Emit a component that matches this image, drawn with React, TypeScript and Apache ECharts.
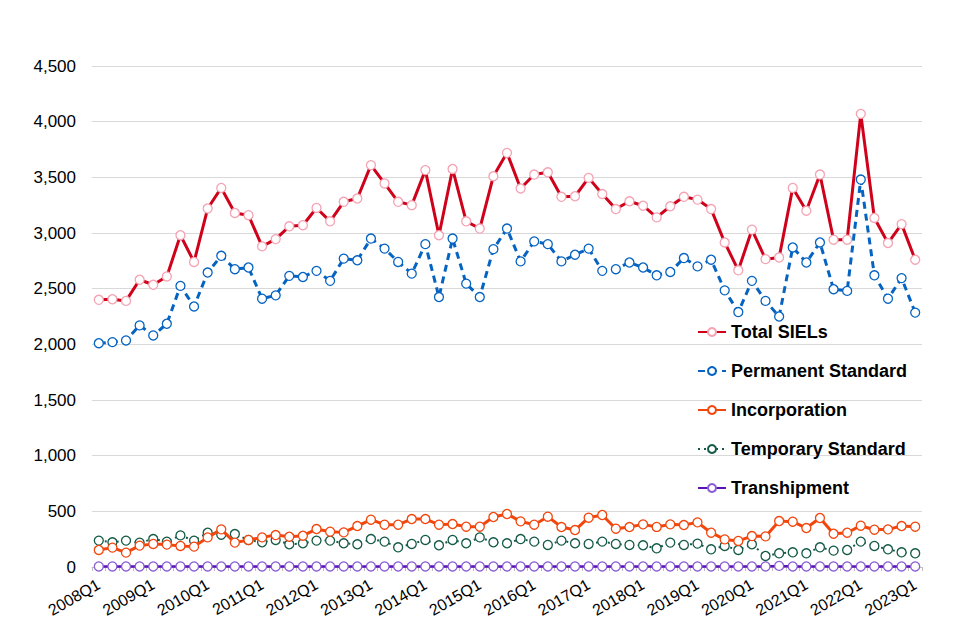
import React, { useEffect, useRef } from "react";
import * as echarts from "echarts";

const quarters: string[] = [];
for (let y = 2008; y <= 2023; y++) {
  for (let q = 1; q <= 4; q++) {
    if (y === 2023 && q > 1) break;
    quarters.push(`${y}Q${q}`);
  }
}

const totalSIELs = [
  2400, 2405, 2390, 2580, 2535, 2610, 2980, 2740, 3220, 3405, 3180, 3160, 2880, 2945, 3060, 3070,
  3225, 3105, 3280, 3310, 3610, 3445, 3280, 3250, 3565, 2980, 3575, 3105, 3040, 3510, 3720, 3400,
  3525, 3545, 3325, 3330, 3495, 3350, 3215, 3285, 3245, 3140, 3240, 3325, 3300, 3215, 2915, 2665,
  3030, 2765, 2780, 3405, 3200, 3525, 2940, 2940, 4070, 3135, 2910, 3080, 2760,
];

const permanentStandard = [
  2010, 2020, 2035, 2170, 2080, 2185, 2525, 2340, 2645, 2795, 2675, 2690, 2410, 2440, 2615, 2605,
  2660, 2570, 2770, 2755, 2950, 2860, 2740, 2635, 2900, 2425, 2950, 2545, 2425, 2855, 3040, 2745,
  2925, 2900, 2745, 2805, 2860, 2660, 2675, 2735, 2690, 2620, 2650, 2775, 2700, 2760, 2485, 2290,
  2570, 2390, 2250, 2870, 2735, 2915, 2495, 2480, 3480, 2620, 2410, 2595, 2285,
];

const incorporation = [
  153, 174, 129, 192, 207, 201, 189, 183, 266, 338, 219, 243, 266, 287, 272, 281,
  341, 317, 311, 368, 425, 380, 380, 431, 431, 380, 386, 362, 362, 449, 476, 410,
  380, 452, 359, 332, 443, 467, 344, 359, 383, 360, 383, 377, 401, 308, 248, 234,
  278, 275, 413, 407, 350, 440, 299, 308, 371, 335, 338, 368, 362,
];

const temporaryStandard = [
  237, 222, 237, 219, 251, 228, 284, 237, 308, 290, 296, 243, 222, 243, 204, 213,
  237, 237, 213, 204, 251, 228, 177, 207, 243, 195, 243, 213, 266, 222, 213, 251,
  228, 198, 237, 213, 207, 228, 207, 198, 195, 168, 219, 198, 210, 159, 189, 153,
  204, 99, 123, 132, 123, 177, 147, 153, 228, 189, 159, 132, 123,
];

const transhipment = [
  5, 5, 5, 5, 5, 5, 5, 5, 5, 5, 5, 5, 5, 5, 5, 5,
  5, 5, 5, 5, 5, 5, 5, 5, 5, 5, 5, 5, 5, 5, 5, 5,
  5, 5, 5, 5, 5, 5, 5, 5, 5, 5, 5, 5, 5, 5, 5, 5,
  5, 5, 10, 5, 5, 5, 5, 5, 5, 5, 5, 5, 5,
];

const FONT = "Liberation Sans, Arial, sans-serif";

export default function App() {
  const ref = useRef<HTMLDivElement>(null);
  useEffect(() => {
    if (!ref.current) return;
    const chart = echarts.init(ref.current, null, { renderer: "svg" });
    const mk = (
      name: string,
      data: number[],
      color: string,
      markerColor: string,
      width: number,
      type: any,
      z: number
    ) => ({
      name,
      type: "line",
      data,
      z,
      symbol: "circle",
      symbolSize: 9,
      showSymbol: true,
      showAllSymbol: true,
      lineStyle: { color, width, type },
      itemStyle: { color: "#ffffff", borderColor: markerColor, borderWidth: 1.3 },
      emphasis: { disabled: true },
    });
    chart.setOption({
      animation: false,
      backgroundColor: "#ffffff",
      textStyle: { fontFamily: FONT },
      grid: { left: 92, right: 38, top: 66, bottom: 73, containLabel: false },
      legend: {
        orient: "vertical",
        left: 697,
        top: 323,
        padding: 0,
        itemGap: 21,
        itemWidth: 28,
        itemHeight: 10,
        textStyle: { fontFamily: FONT, fontSize: 18, fontWeight: "bold", color: "#000000" },
        data: [
          "Total SIELs",
          "Permanent Standard",
          "Incorporation",
          "Temporary Standard",
          "Transhipment",
        ],
      },
      xAxis: {
        type: "category",
        data: quarters,
        boundaryGap: true,
        axisLine: { show: true, lineStyle: { color: "#bfbfbf", width: 1 } },
        axisTick: { show: true, interval: 0, length: 4, lineStyle: { color: "#bfbfbf" } },
        axisLabel: {
          interval: 3,
          rotate: 30,
          fontSize: 16,
          color: "#000000",
          fontFamily: FONT,
          margin: 16,
        },
        splitLine: { show: false },
      },
      yAxis: {
        type: "value",
        min: 0,
        max: 4500,
        interval: 500,
        axisLine: { show: false },
        axisTick: { show: false },
        axisLabel: {
          fontSize: 17,
          color: "#000000",
          fontFamily: FONT,
          margin: 16,
          formatter: (v: number) => v.toLocaleString("en-US"),
        },
        splitLine: { lineStyle: { color: "#d9d9d9", width: 1 } },
      },
      series: [
        mk("Total SIELs", totalSIELs, "#d0021b", "#f4a3b3", 3, "solid", 5),
        mk("Permanent Standard", permanentStandard, "#0563c1", "#0563c1", 3, [7, 5], 4),
        mk("Incorporation", incorporation, "#f2460d", "#f2460d", 3, "solid", 3),
        mk("Temporary Standard", temporaryStandard, "#145a46", "#145a46", 2, [2, 4], 2),
        mk("Transhipment", transhipment, "#5a12b8", "#8a5cd6", 2.5, "solid", 1),
      ],
    });
    return () => chart.dispose();
  }, []);
  return (
    <div
      ref={ref}
      style={{ position: "absolute", left: 0, top: 0, width: 960, height: 640 }}
    />
  );
}
